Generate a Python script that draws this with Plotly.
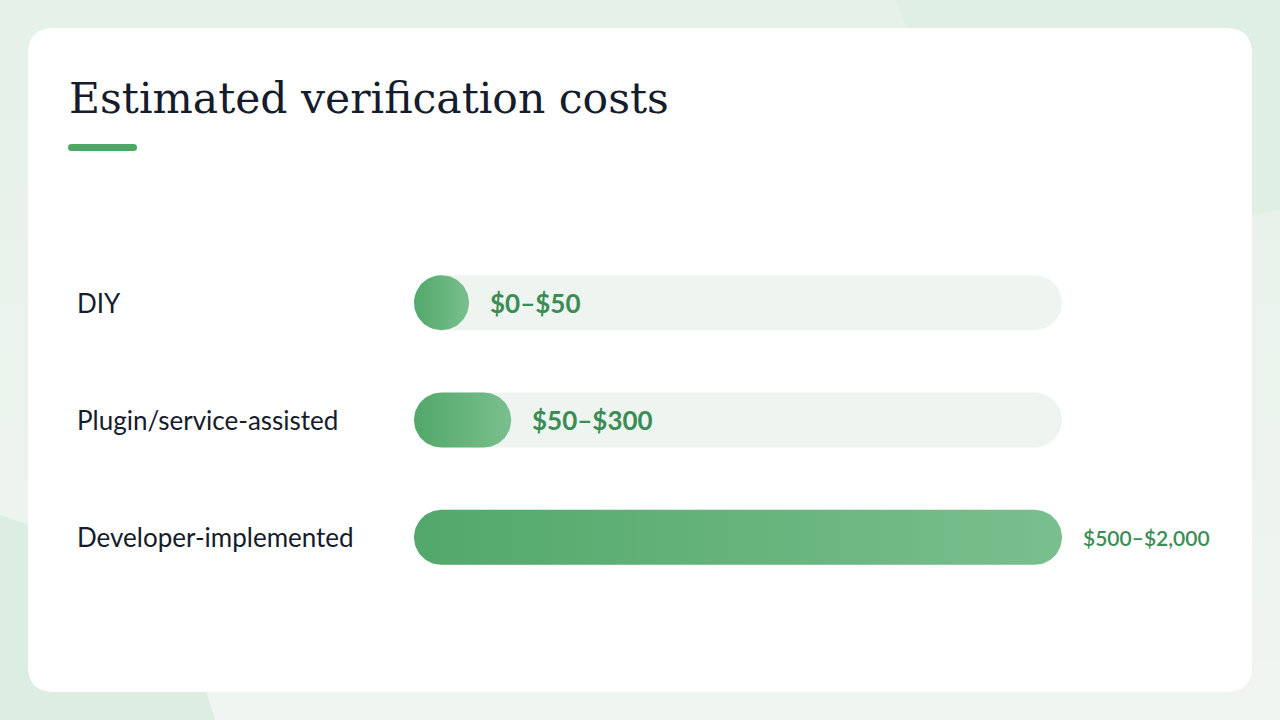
import numpy as np
import plotly.graph_objects as go

# Dados do gráfico
categories = ["DIY", "Plugin/service-assisted", "Developer-implemented"]
cost_low = [0, 50, 500]
cost_high = [50, 300, 2000]
title = "Estimated verification costs"

# Layout em pixels (figura 1280x720)
W, H = 1280, 720
PLOT_L, PLOT_R, PLOT_T, PLOT_B = 414, 1062, 244, 596
X_MAX = max(cost_high)
PX_PER_X = (PLOT_R - PLOT_L) / X_MAX
PX_PER_ROW = (PLOT_B - PLOT_T) / len(categories)
BAR_H = 55

GREEN_DARK = "#52a86a"
GREEN_LIGHT = "#7abf8e"
TRACK = "#eef5f0"
TEXT_GREEN = "#3b8c55"
NAVY = "#151c2c"


def px_x(p):
    # pixel -> coordenada paper (x)
    return (p - PLOT_L) / (PLOT_R - PLOT_L)


def px_y(p):
    # pixel -> coordenada paper (y)
    return (PLOT_B - p) / (PLOT_B - PLOT_T)


def pill(length_px, row):
    """Contorno de uma barra arredondada (pílula) em coordenadas de dados."""
    r = BAR_H / 2
    length_px = max(length_px, 2 * r)
    t_right = np.linspace(-np.pi / 2, np.pi / 2, 40)
    t_left = np.linspace(np.pi / 2, 3 * np.pi / 2, 40)
    xs = np.concatenate([(length_px - r) + r * np.cos(t_right), r + r * np.cos(t_left)])
    ys = np.concatenate([r * np.sin(t_right), r * np.sin(t_left)])
    xs = np.append(xs, xs[0]) / PX_PER_X
    ys = row + np.append(ys, ys[0]) / PX_PER_ROW
    return xs, ys


def rounded_rect(x0, y0, x1, y1, r):
    """Caminho SVG de um retângulo arredondado (pixels -> paper)."""
    X = lambda p: f"{px_x(p):.5f}"
    Y = lambda p: f"{px_y(p):.5f}"
    return (
        f"M {X(x0 + r)},{Y(y0)} L {X(x1 - r)},{Y(y0)} Q {X(x1)},{Y(y0)} {X(x1)},{Y(y0 + r)} "
        f"L {X(x1)},{Y(y1 - r)} Q {X(x1)},{Y(y1)} {X(x1 - r)},{Y(y1)} "
        f"L {X(x0 + r)},{Y(y1)} Q {X(x0)},{Y(y1)} {X(x0)},{Y(y1 - r)} "
        f"L {X(x0)},{Y(y0 + r)} Q {X(x0)},{Y(y0)} {X(x0 + r)},{Y(y0)} Z"
    )


fig = go.Figure()

# Trilhos de fundo e barras com gradiente
for i, (cat, hi) in enumerate(zip(categories, cost_high)):
    tx, ty = pill(X_MAX * PX_PER_X, i)
    fig.add_trace(go.Scatter(
        x=tx, y=ty, mode="lines", fill="toself", fillcolor=TRACK,
        line=dict(width=0, color="rgba(0,0,0,0)"), hoverinfo="skip", showlegend=False,
    ))
    bx, by = pill(hi * PX_PER_X, i)
    fig.add_trace(go.Scatter(
        x=bx, y=by, mode="lines", fill="toself",
        fillgradient=dict(type="horizontal", colorscale=[[0, GREEN_DARK], [1, GREEN_LIGHT]]),
        line=dict(width=0, color="rgba(0,0,0,0)"), hoverinfo="skip", showlegend=False,
        name=cat,
    ))

annotations = []
for i, (cat, lo, hi) in enumerate(zip(categories, cost_low, cost_high)):
    # Rótulo da categoria
    annotations.append(dict(
        x=px_x(75), xref="paper", y=i, yref="y", text=cat, showarrow=False,
        xanchor="left", yanchor="middle",
        font=dict(family="Lato", size=26, color=NAVY),
    ))
    # Rótulo de valor logo após a barra
    end_x = max(hi * PX_PER_X, BAR_H) / PX_PER_X
    outside = hi >= X_MAX
    annotations.append(dict(
        x=end_x, xref="x", y=i, yref="y", text=f"${lo:,}–${hi:,}", showarrow=False,
        xanchor="left", yanchor="middle", xshift=19,
        font=dict(family="Lato", size=21 if outside else 26, color=TEXT_GREEN,
                  weight=600 if outside else 700),
    ))

# Título
annotations.append(dict(
    x=px_x(67), xref="paper", y=px_y(98), yref="paper", text=title, showarrow=False,
    xanchor="left", yanchor="middle",
    font=dict(family="DejaVu Serif", size=42.5, color=NAVY),
))

# Fundo decorativo, cartão branco e sublinhado do título
shapes = []
top_c = np.array([230, 242, 233])
bot_c = np.array([240, 245, 242])
n_bands = 12
for k in range(n_bands):
    c = top_c + (bot_c - top_c) * k / (n_bands - 1)
    shapes.append(dict(
        type="rect", xref="paper", yref="paper", layer="below", line_width=0,
        x0=px_x(0), x1=px_x(W), y0=px_y(H * k / n_bands), y1=px_y(H * (k + 1) / n_bands + 1),
        fillcolor=f"rgb({int(c[0])},{int(c[1])},{int(c[2])})",
    ))
shapes.append(dict(
    type="circle", xref="paper", yref="paper", layer="below", line_width=0,
    x0=px_x(880), x1=px_x(1520), y0=px_y(-420), y1=px_y(220), fillcolor="#dfefe4",
))
shapes.append(dict(
    type="path", xref="paper", yref="paper", layer="below", line_width=0,
    path=(f"M {px_x(0)},{px_y(515)} L {px_x(60)},{px_y(535)} L {px_x(200)},{px_y(670)} "
          f"L {px_x(215)},{px_y(720)} L {px_x(0)},{px_y(720)} Z"),
    fillcolor="#dcede1",
))
shapes.append(dict(
    type="path", xref="paper", yref="paper", layer="below", line_width=0,
    path=rounded_rect(28, 28, 1252, 692, 26), fillcolor="#ffffff",
))
shapes.append(dict(
    type="path", xref="paper", yref="paper", layer="below", line_width=0,
    path=rounded_rect(68, 144, 137, 151, 3.5), fillcolor="#4ea865",
))

fig.update_layout(
    width=W, height=H,
    margin=dict(l=PLOT_L, r=W - PLOT_R, t=PLOT_T, b=H - PLOT_B),
    paper_bgcolor="#ebf3ee", plot_bgcolor="rgba(0,0,0,0)",
    xaxis=dict(range=[0, X_MAX], visible=False, fixedrange=True),
    yaxis=dict(range=[len(categories) - 0.5, -0.5], visible=False, fixedrange=True),
    annotations=annotations, shapes=shapes, showlegend=False,
    hovermode=False,
)

# tira a margem padrão do navegador para a figura ocupar a janela inteira
fig.write_html("out.html", config={"displayModeBar": False},
               post_script="document.body.style.margin='0';document.body.style.overflow='hidden';")
